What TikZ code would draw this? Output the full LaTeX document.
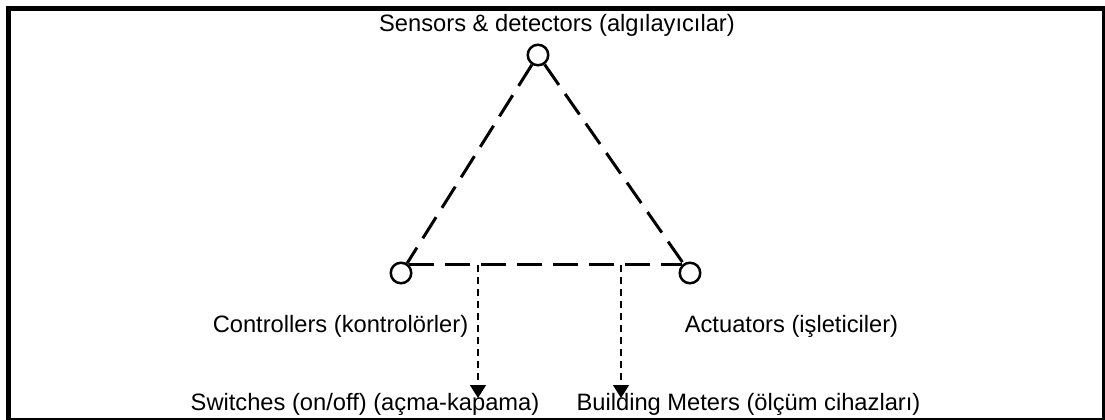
\documentclass[tikz,border=0pt]{standalone}
\usepackage{fontspec}
\setmainfont{Liberation Sans}
\usetikzlibrary{arrows.meta}
\tikzset{
  dev/.style={circle, draw, line width=2.5pt, minimum size=20.5pt, inner sep=0pt},
  bigdash/.style={line width=3pt, dash pattern=on 25pt off 11pt},
  smalldash/.style={line width=1.3pt, dash pattern=on 7pt off 5pt, -{Triangle[width=16pt,length=13pt]}},
  lbl/.style={anchor=base, inner sep=0pt, font=\fontsize{23.7}{28}\selectfont}
}
\begin{document}
\begin{tikzpicture}[x=1pt,y=-1pt]
\useasboundingbox (0,0) rectangle (1105,420);
\draw[line width=5pt] (8.5,8.5) rectangle (1104.5,420.5);
\node[dev] (T) at (538,55) {};
\node[dev] (L) at (401,273) {};
\node[dev] (R) at (690,273) {};
\draw[bigdash] (T) -- (L);
\draw[bigdash] (T) -- (R);
\draw[bigdash] (L.north east) -- (R.north west);
\node[lbl] (tS) at (557,32) {Sensors \& detectors (algılayıcılar)};
\node[lbl] (tC) at (340.5,332) {Controllers (kontrolörler)};
\node[lbl] (tA) at (791.5,332) {Actuators (işleticiler)};
\node[lbl] (tW) at (365,410) {Switches (on/off) (açma-kapama)};
\node[lbl] (tB) at (748.5,410) {Building Meters (ölçüm cihazları)};
\coordinate (s1) at (478,265);
\coordinate (e1) at (478,398);
\coordinate (s2) at (621,265);
\coordinate (e2) at (621,398);
\draw[smalldash] (s1) -- (e1);
\draw[smalldash] (s2) -- (e2);
\end{tikzpicture}
\end{document}
